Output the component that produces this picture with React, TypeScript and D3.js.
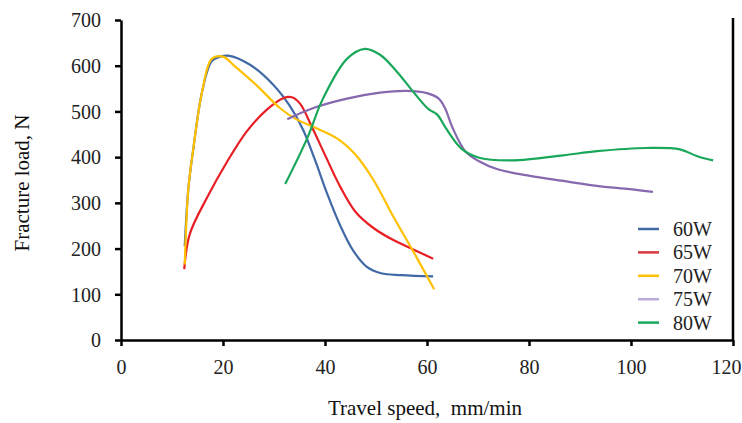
import React, { useEffect, useRef } from "react";
import * as d3 from "d3";

// Travel speed (mm/min) / fracture load (N) pairs
const s60W: [number, number][] = [
  [12.5, 205], [13.2, 330], [14.2, 420], [15.9, 543], [17.8, 610], [19.5, 620],
  [21, 622], [25.3, 602], [29.8, 559], [33.1, 512], [35.7, 460], [38, 395],
  [40.5, 318], [43, 250], [45.5, 196], [48.2, 160], [51, 146], [55, 142], [61.2, 139]
];
const s65W: [number, number][] = [
  [12.4, 155], [13.5, 232], [16.8, 310], [20.8, 390], [24.7, 457], [28.6, 504],
  [31.8, 529], [33.5, 531], [35.1, 517], [37.6, 462], [40.2, 400], [43, 335],
  [46, 280], [49.5, 245], [53.5, 218], [57.3, 198], [61.2, 178]
];
const s70W: [number, number][] = [
  [12.5, 165], [13.2, 330], [14.2, 420], [15.9, 543], [17.8, 615], [20, 620],
  [22, 602], [26.7, 556], [31.2, 507], [34.5, 482], [38, 465], [42.5, 440],
  [46, 405], [49.5, 350], [53.5, 268], [57.5, 190], [61.4, 111]
];
const s75W: [number, number][] = [
  [32.6, 483], [37.6, 507], [44.3, 528], [50.8, 541], [56, 545], [60, 540],
  [62.3, 528], [63.5, 508], [65.1, 462], [67.5, 413], [70.2, 391], [73.7, 374],
  [80.2, 359], [86.7, 348], [93.3, 337], [99.8, 330], [104.3, 324]
];
const s80W: [number, number][] = [
  [32.2, 341], [36.5, 441], [39.6, 528], [44.3, 615], [47.8, 637], [50.8, 624],
  [54.1, 587], [57.3, 543], [60.3, 505], [62, 493], [63.9, 460], [66.8, 418],
  [70.4, 398], [76.9, 393], [86.7, 404], [93.3, 413], [103.1, 420], [109.6, 417],
  [113, 402], [116.1, 393]
];

const seriesNames = ["60W", "65W", "70W", "75W", "80W"];
const seriesData = [s60W, s65W, s70W, s75W, s80W];
const lineColors = ["#4069A6", "#E81E25", "#FFC000", "#8668AE", "#19A85A"];
const legendColors = ["#4069A6", "#D9363E", "#FFC000", "#BBA9DC", "#19A85A"];

const xTicks = [0, 20, 40, 60, 80, 100, 120];
const yTicks = [0, 100, 200, 300, 400, 500, 600, 700];

const App = () => {
  const svgRef = useRef<SVGSVGElement>(null);

  useEffect(() => {
    const width = 742;
    const height = 423;
    const left = 121, right = 733, top = 20, bottom = 340;
    const font = "'Liberation Serif', 'Times New Roman', serif";

    const svg = d3.select(svgRef.current);
    svg.selectAll("*").remove();
    svg.attr("width", width).attr("height", height);

    const x = d3.scaleLinear().domain([0, 120]).range([left, right]);
    const y = d3.scaleLinear().domain([0, 700]).range([bottom, top]);

    // Axes
    const xAxis = svg.append("g")
        .attr("transform", `translate(0, ${bottom})`)
        .call(d3.axisBottom(x).tickValues(xTicks).tickSize(6).tickSizeOuter(0).tickPadding(14));
    const yAxis = svg.append("g")
        .attr("transform", `translate(${left}, 0)`)
        .call(d3.axisLeft(y).tickValues(yTicks).tickSize(6).tickSizeOuter(0).tickPadding(14));

    [xAxis, yAxis].forEach(g => {
      g.attr("font-family", null);
      g.select(".domain").attr("stroke", "#000").attr("stroke-width", 2.5);
      g.selectAll(".tick line").attr("stroke", "#000").attr("stroke-width", 2.5);
      g.selectAll(".tick text")
          .attr("fill", "#222")
          .style("font-family", font)
          .style("font-size", "20px");
    });
    yAxis.selectAll(".tick text").attr("dy", "0.34em");
    // keep the last x label inside the picture
    xAxis.selectAll<SVGTextElement, number>(".tick text")
        .filter(d => d === 120)
        .attr("text-anchor", "end")
        .attr("dx", 8);

    // right border line
    svg.append("line")
        .attr("x1", right).attr("x2", right)
        .attr("y1", y(700) - 2).attr("y2", bottom)
        .attr("stroke", "#000").attr("stroke-width", 2.5);

    // Lines
    const line = d3.line<[number, number]>()
        .x(d => x(d[0]))
        .y(d => y(d[1]))
        .curve(d3.curveCatmullRom.alpha(0.5));

    seriesData.forEach((s, i) => {
      svg.append("path")
          .datum(s)
          .attr("fill", "none")
          .attr("stroke", lineColors[i])
          .attr("stroke-width", 2.2)
          .attr("d", line);
    });

    // Legend
    const legend = svg.append("g").attr("transform", "translate(638, 229)");
    seriesNames.forEach((name, i) => {
      const row = legend.append("g").attr("transform", `translate(0, ${i * 23.4})`);
      row.append("line")
          .attr("x1", 0).attr("x2", 21)
          .attr("stroke", legendColors[i])
          .attr("stroke-width", 2.5);
      row.append("text")
          .attr("x", 35)
          .attr("y", 7)
          .attr("fill", "#222")
          .style("font-family", font)
          .style("font-size", "20px")
          .text(name);
    });

    // Axis titles
    svg.append("text")
        .attr("x", 425)
        .attr("y", 415)
        .attr("text-anchor", "middle")
        .attr("fill", "#111")
        .style("font-family", font)
        .style("font-size", "21px")
        .style("white-space", "pre")
        .text("Travel speed,  mm/min");

    svg.append("text")
        .attr("transform", "translate(29, 183) rotate(-90)")
        .attr("text-anchor", "middle")
        .attr("fill", "#111")
        .style("font-family", font)
        .style("font-size", "21px")
        .text("Fracture load, N");
  }, []);

  return (
    <div style={{ position: "absolute", left: 0, top: 0, background: "#fff" }}>
      <svg ref={svgRef}></svg>
    </div>
  );
};

export default App;
